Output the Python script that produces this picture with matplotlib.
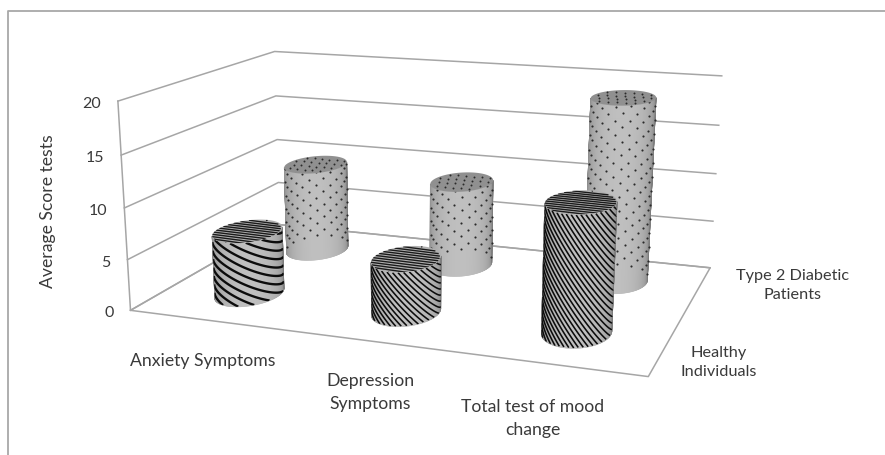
import numpy as np
import matplotlib
matplotlib.use("Agg")
import matplotlib.pyplot as plt
from matplotlib.collections import PolyCollection, LineCollection
from matplotlib.patches import Polygon

plt.rcParams['font.family'] = ['Lato', 'DejaVu Sans']

categories = ['Anxiety Symptoms', 'Depression\nSymptoms', 'Total test of mood\nchange']
series = ['Healthy\nIndividuals', 'Type 2 Diabetic\nPatients']
healthy = [6.3, 5.2, 12.1]
diabetic = [9.4, 8.85, 18.6]
y_ticks = [0, 5, 10, 15, 20]
y_title = 'Average Score tests'

# view: camera calibration (world box corner -> pixel), a projective transform
WORLD = np.array([[0,0,0],[3,0,0],[3,2,0],[0,2,0],[0,0,20],[3,2,20],[0,2,20],[3,2,10],[0,2,10],[0,0,10]], float)
PIX = np.array([[130,312],[648,378],[710,268],[280,226],[118,102],[722,77],[274,53],[716,175],[277,140],[125,208]], float)
def calibrate(W, I):
    A = []
    for (x,y,z),(u,v) in zip(W,I):
        A.append([x,y,z,1,0,0,0,0,-u*x,-u*y,-u*z,-u])
        A.append([0,0,0,0,x,y,z,1,-v*x,-v*y,-v*z,-v])
    return np.linalg.svd(np.array(A))[2][-1].reshape(3,4)
P = calibrate(WORLD, PIX)
CAM = np.linalg.svd(P)[2][-1]; CAM = CAM[:3]/CAM[3]

def proj(x, y, z):
    x, y, z = np.broadcast_arrays(np.asarray(x,float), np.asarray(y,float), np.asarray(z,float))
    h = P @ np.stack([x.ravel(), y.ravel(), z.ravel(), np.ones(x.size)])
    return np.stack([h[0]/h[2], h[1]/h[2]], axis=1)

fig = plt.figure(figsize=(8.85, 4.56), dpi=100)
ax = fig.add_axes([0,0,1,1])
ax.set_xlim(0, 885); ax.set_ylim(456, 0); ax.axis('off')
ax.plot([7.5,7.5,885],[456,12,12], color='#a8a8a8', lw=1.3, zorder=0)

TXT = '#3a3a3a'
GRID = '#a6a6a6'
for z in y_ticks:
    pts = proj([0,0,3],[0,2,2],[z,z,z])
    ax.plot(pts[:,0], pts[:,1], color=GRID, lw=1.1, zorder=1)
    q = proj(0,0,z)[0]
    ax.text(q[0]-17, q[1]+2, str(z), ha='right', va='center', fontsize=11.5, color=TXT)
edge = proj([0,3,3,0,0,0],[0,0,2,2,0,0],[0,0,0,0,0,20])
ax.plot(edge[:,0], edge[:,1], color=GRID, lw=1.1, zorder=1)
ax.text(48.5, 211, y_title, rotation=90, ha='center', va='center', fontsize=12.7, color=TXT)

cat_off = [(-5, 40), (-2, 50), (-19, 53)]
for i, c in enumerate(categories):
    q = proj(i+0.5, 0, 0)[0]
    ax.text(q[0]+cat_off[i][0], q[1]+cat_off[i][1], c, ha='center', va='center', fontsize=12.7, color=TXT, linespacing=1.55)
ser_off = [(52, 17), (95, -6)]
for j, s in enumerate(series):
    q = proj(3, j+0.5, 0)[0]
    ax.text(q[0]+ser_off[j][0], q[1]+ser_off[j][1], s, ha='center', va='center', fontsize=11.7, color=TXT, linespacing=1.5)

RX, RY = 0.187, 0.27
TH = np.linspace(0, 2*np.pi, 361)

def cylinder(cx, cy, v, kind, pitch, tilt, lw, zo):
    cy = cy + 0.03
    nx, ny = np.cos(TH), np.sin(TH)
    X = cx + RX*nx; Y = cy + RY*ny
    dx, dy = CAM[0]-X, CAM[1]-Y
    vis = (nx/RX*dx + ny/RY*dy) > 0
    start = np.where(vis[:-1] & ~np.roll(vis[:-1], 1))[0][0]
    n = vis[:-1].sum()
    idx = (start + np.arange(n)) % 360
    th = TH[idx]
    x = cx + RX*np.cos(th); y = cy + RY*np.sin(th)
    b = proj(x, y, 0); t = proj(x, y, v)
    s = np.linspace(0, 1, n)
    shade = 0.48 + 0.27*np.sin(np.pi*s)**0.6
    polys = [[b[k], b[k+1], t[k+1], t[k]] for k in range(n-1)]
    cols = [(g, g, g) for g in (shade[:-1]+shade[1:])/2]
    ax.add_collection(PolyCollection(polys, facecolors=cols, edgecolors=cols, linewidths=0.4, zorder=zo))
    side = Polygon(np.vstack([b, t[::-1]]), closed=True, fc='none', ec='none', zorder=zo)
    ax.add_patch(side)
    cap = proj(cx+RX*np.cos(TH), cy+RY*np.sin(TH), v)
    capcol = '#909090' if kind == 'dots' else '#b0b0b0'
    capP = Polygon(cap, closed=True, fc=capcol, ec='none', zorder=zo+0.2)
    ax.add_patch(capP)
    if kind == 'stripes':
        zs = np.arange(-30, 60, pitch)
        segs = []
        lr = np.sign(t[-1,0]-t[0,0])
        sx = (t[:,0]-t[0,0])/(t[-1,0]-t[0,0])
        ramp = 0.75*(sx if lr > 0 else 1-sx) + 0.25*(s if lr > 0 else 1-s)
        for z0 in zs:
            zz = z0 - tilt*ramp*np.pi
            mask = (zz >= 0) & (zz <= v)
            if mask.sum() < 2:
                continue
            p = proj(x, y, zz)
            p[~mask] = np.nan
            segs.append(p)
        lc = LineCollection(segs, colors='#0c0c0c', linewidths=lw, zorder=zo+0.1)
        ax.add_collection(lc)
        lc.set_clip_path(side)
        ys = np.arange(-RY, RY, 0.045)
        capsegs = []
        for yy in ys:
            w = RX*np.sqrt(max(1-(yy/RY)**2, 0))
            capsegs.append(proj(cx+np.array([-w,w]), cy+yy+np.array([0.0,-0.02]), v))
        lc2 = LineCollection(capsegs, colors='#1a1a1a', linewidths=1.0, zorder=zo+0.3)
        ax.add_collection(lc2)
        lc2.set_clip_path(capP)
    else:
        zs = np.arange(0.4, v, pitch)
        px, py = [], []
        a = np.linspace(0.06, 0.94, 7)
        for m, z0 in enumerate(zs):
            aa = a if m % 2 == 0 else a[:-1] + (a[1]-a[0])/2
            ang = th[0] + aa*(th[-1]-th[0])
            p = proj(cx+RX*np.cos(ang), cy+RY*np.sin(ang), z0)
            px.extend(p[:,0]); py.extend(p[:,1])
        ax.scatter(px, py, s=2.4, c='#2a2a2a', linewidths=0, zorder=zo+0.1)
        gx, gy = np.meshgrid(np.linspace(-1,1,8), np.linspace(-1,1,6))
        gx = gx + 0.12*(np.arange(6)[:,None] % 2)
        keep = gx**2 + gy**2 < 0.9
        p = proj(cx+RX*gx[keep], cy+RY*gy[keep], v)
        ax.scatter(p[:,0], p[:,1], s=2.0, c='#2a2a2a', linewidths=0, zorder=zo+0.3)

pitch_h = [0.85, 0.6, 0.62]
tilt_h = [1.3, 2.6, 3.2]
lw_h = [1.7, 1.15, 1.15]
for i in range(3):
    cylinder(i+0.5, 1.5, diabetic[i], 'dots', 0.72, 0, 0, 5+i)
for i in range(3):
    cylinder(i+0.5, 0.5, healthy[i], 'stripes', pitch_h[i], tilt_h[i], lw_h[i], 10+i)

fig.savefig('out.png', dpi=100)
